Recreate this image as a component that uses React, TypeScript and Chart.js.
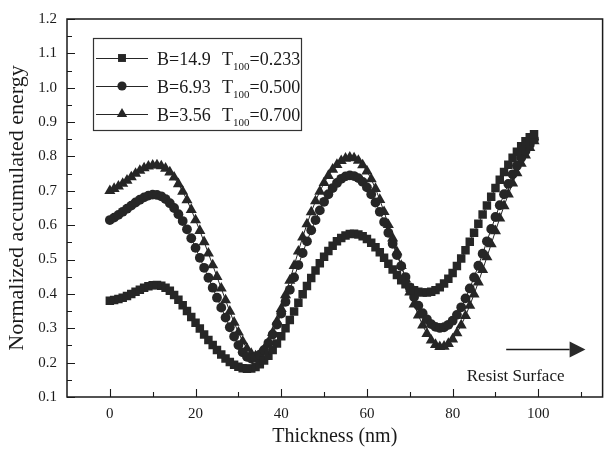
import React, { useEffect, useRef } from 'react';
import { Chart, registerables } from 'chart.js';

Chart.register(...registerables);

// ---------- data ----------
const thickness = [
  0, 1, 2, 3, 4, 5, 6, 7, 8, 9, 10, 11, 12, 13, 14, 15, 16, 17, 18, 19,
  20, 21, 22, 23, 24, 25, 26, 27, 28, 29, 30, 31, 32, 33, 34, 35, 36, 37, 38, 39,
  40, 41, 42, 43, 44, 45, 46, 47, 48, 49, 50, 51, 52, 53, 54, 55, 56, 57, 58, 59,
  60, 61, 62, 63, 64, 65, 66, 67, 68, 69, 70, 71, 72, 73, 74, 75, 76, 77, 78, 79,
  80, 81, 82, 83, 84, 85, 86, 87, 88, 89, 90, 91, 92, 93, 94, 95, 96, 97, 98, 99,
];

// B=14.9, T100=0.233 (squares)
const energyB149 = [
  0.380, 0.382, 0.385, 0.389, 0.394, 0.400, 0.406, 0.412, 0.418, 0.422,
  0.425, 0.426, 0.424, 0.418, 0.409, 0.397, 0.383, 0.367, 0.350, 0.333,
  0.316, 0.299, 0.282, 0.266, 0.251, 0.237, 0.224, 0.212, 0.202, 0.194,
  0.188, 0.184, 0.182, 0.183, 0.187, 0.195, 0.206, 0.220, 0.237, 0.256,
  0.277, 0.300, 0.324, 0.349, 0.374, 0.399, 0.423, 0.446, 0.468, 0.489,
  0.508, 0.525, 0.540, 0.553, 0.563, 0.570, 0.574, 0.575, 0.573, 0.568,
  0.560, 0.549, 0.536, 0.521, 0.505, 0.488, 0.471, 0.455, 0.440, 0.428,
  0.418, 0.411, 0.406, 0.404, 0.404, 0.406, 0.411, 0.419, 0.430, 0.444,
  0.461, 0.481, 0.503, 0.527, 0.552, 0.578, 0.604, 0.631, 0.657, 0.683,
  0.708, 0.732, 0.755, 0.776, 0.796, 0.814, 0.830, 0.844, 0.856, 0.865,
];

// B=6.93, T100=0.500 (circles)
const energyB693 = [
  0.615, 0.622, 0.630, 0.639, 0.648, 0.657, 0.666, 0.674, 0.681, 0.686,
  0.689, 0.688, 0.684, 0.676, 0.664, 0.650, 0.632, 0.612, 0.588, 0.562,
  0.534, 0.505, 0.476, 0.447, 0.418, 0.389, 0.360, 0.331, 0.303, 0.276,
  0.251, 0.230, 0.217, 0.212, 0.214, 0.223, 0.237, 0.257, 0.282, 0.311,
  0.343, 0.377, 0.412, 0.448, 0.484, 0.519, 0.553, 0.585, 0.615, 0.643,
  0.668, 0.690, 0.708, 0.723, 0.735, 0.742, 0.745, 0.743, 0.737, 0.726,
  0.710, 0.690, 0.666, 0.639, 0.609, 0.578, 0.546, 0.513, 0.481, 0.449,
  0.419, 0.391, 0.366, 0.344, 0.326, 0.312, 0.304, 0.301, 0.303, 0.310,
  0.322, 0.339, 0.361, 0.387, 0.416, 0.448, 0.482, 0.517, 0.553, 0.589,
  0.624, 0.658, 0.690, 0.720, 0.748, 0.773, 0.796, 0.816, 0.834, 0.850,
];

// B=3.56, T100=0.700 (triangles)
const energyB356 = [
  0.700, 0.706, 0.713, 0.721, 0.730, 0.740, 0.750, 0.759, 0.766, 0.771,
  0.774, 0.775, 0.772, 0.765, 0.754, 0.739, 0.720, 0.698, 0.673, 0.645,
  0.615, 0.584, 0.551, 0.518, 0.484, 0.450, 0.416, 0.382, 0.349, 0.317,
  0.288, 0.262, 0.241, 0.226, 0.219, 0.224, 0.238, 0.259, 0.287, 0.320,
  0.357, 0.397, 0.439, 0.482, 0.524, 0.565, 0.603, 0.638, 0.670, 0.698,
  0.723, 0.744, 0.762, 0.776, 0.787, 0.794, 0.797, 0.795, 0.788, 0.775,
  0.757, 0.734, 0.706, 0.674, 0.639, 0.601, 0.562, 0.522, 0.482, 0.443,
  0.405, 0.370, 0.338, 0.309, 0.284, 0.265, 0.252, 0.246, 0.247, 0.255,
  0.268, 0.286, 0.309, 0.336, 0.366, 0.399, 0.434, 0.470, 0.507, 0.545,
  0.583, 0.620, 0.656, 0.690, 0.722, 0.752, 0.779, 0.803, 0.825, 0.845,
];

const legendB = ['B=14.9', 'B=6.93', 'B=3.56'];
const legendT = ['=0.233', '=0.500', '=0.700'];
const xLabelValues = [0, 20, 40, 60, 80, 100];
const xTitle = 'Thickness (nm)';
const yTitle = 'Normalized accumulated energy';
const surfaceLabel = 'Resist Surface';

// ---------- style ----------
const INK = '#1a1a1a';
const MARK = '#262626';
const SERIF = '"Liberation Serif", "DejaVu Serif", serif';
const markerStyles = ['rect', 'circle', 'triangle'] as const;
const markerRadius = [6.0, 4.9, 6.4];
const legendRadius = [5.6, 4.6, 6.0];

function drawMarker(ctx: CanvasRenderingContext2D, style: string, x: number, y: number, r: number) {
  ctx.beginPath();
  if (style === 'rect') {
    const s = r * Math.SQRT1_2;
    ctx.rect(x - s, y - s, 2 * s, 2 * s);
  } else if (style === 'circle') {
    ctx.arc(x, y, r, 0, Math.PI * 2);
  } else {
    const h = r * 1.5;
    const w = r * Math.sqrt(3) / 2;
    ctx.moveTo(x, y - r);
    ctx.lineTo(x + w, y - r + h);
    ctx.lineTo(x - w, y - r + h);
    ctx.closePath();
  }
  ctx.fill();
}

const overlayPlugin = {
  id: 'overlay',
  afterDraw(chart: any) {
    const { ctx, chartArea: ca, scales } = chart;
    const xs = scales.x;
    const ys = scales.y;
    ctx.save();
    // frame
    ctx.strokeStyle = INK;
    ctx.lineWidth = 1.5;
    ctx.strokeRect(ca.left, ca.top, ca.right - ca.left, ca.bottom - ca.top);
    // inward ticks
    ctx.lineWidth = 1.1;
    ctx.beginPath();
    for (let v = 0; v <= 110; v += 10) {
      const px = Math.round(xs.getPixelForValue(v)) + 0.5;
      const len = v % 20 === 0 ? 8 : 5;
      ctx.moveTo(px, ca.bottom);
      ctx.lineTo(px, ca.bottom - len);
    }
    for (let k = 2; k <= 24; k++) {
      const v = k / 20;
      const py = Math.round(ys.getPixelForValue(v)) + 0.5;
      const len = k % 2 === 0 ? 8 : 5;
      ctx.moveTo(ca.left, py);
      ctx.lineTo(ca.left + len, py);
    }
    ctx.stroke();

    // legend box
    const bx = ca.left + 26;
    const by = ca.top + 19;
    const bw = 208;
    const bh = 92;
    ctx.lineWidth = 1.2;
    ctx.strokeStyle = '#333';
    ctx.strokeRect(bx + 0.5, by + 0.5, bw, bh);
    for (let i = 0; i < 3; i++) {
      const ry = by + 20 + i * 28;
      ctx.strokeStyle = MARK;
      ctx.lineWidth = 1;
      ctx.beginPath();
      ctx.moveTo(bx + 3, ry + 0.5);
      ctx.lineTo(bx + 55, ry + 0.5);
      ctx.stroke();
      ctx.fillStyle = MARK;
      drawMarker(ctx, markerStyles[i], bx + 29, ry, legendRadius[i]);
      ctx.fillStyle = INK;
      ctx.textBaseline = 'alphabetic';
      ctx.textAlign = 'left';
      ctx.font = `18px ${SERIF}`;
      ctx.fillText(legendB[i], bx + 64, ry + 7);
      const tx = bx + 129;
      ctx.fillText('T', tx, ry + 7);
      const tw = ctx.measureText('T').width;
      ctx.font = `11px ${SERIF}`;
      ctx.fillText('100', tx + tw, ry + 12);
      const sw = ctx.measureText('100').width;
      ctx.font = `18px ${SERIF}`;
      ctx.fillText(legendT[i], tx + tw + sw, ry + 7);
    }

    // resist surface arrow
    const ay = Math.round(ys.getPixelForValue(0.24)) + 0.5;
    const ax0 = xs.getPixelForValue(92.5);
    const ax1 = xs.getPixelForValue(107.3);
    const ax2 = xs.getPixelForValue(111);
    ctx.strokeStyle = INK;
    ctx.lineWidth = 1.3;
    ctx.beginPath();
    ctx.moveTo(ax0, ay);
    ctx.lineTo(ax1, ay);
    ctx.stroke();
    ctx.fillStyle = '#2a2a2a';
    ctx.beginPath();
    ctx.moveTo(ax1, ay - 8);
    ctx.lineTo(ax2, ay);
    ctx.lineTo(ax1, ay + 8);
    ctx.closePath();
    ctx.fill();
    ctx.fillStyle = INK;
    ctx.font = `17px ${SERIF}`;
    ctx.textAlign = 'center';
    ctx.fillText(surfaceLabel, xs.getPixelForValue(94.7), ys.getPixelForValue(0.146));
    ctx.restore();
  },
};

export default function App() {
  const ref = useRef<HTMLCanvasElement>(null);
  useEffect(() => {
    const series = [energyB149, energyB693, energyB356];
    const chart = new Chart(ref.current as HTMLCanvasElement, {
      type: 'scatter',
      data: {
        datasets: series.map((arr, i) => ({
          label: `${legendB[i]} T100${legendT[i]}`,
          data: thickness.map((t, j) => ({ x: t, y: arr[j] })),
          showLine: true,
          borderColor: MARK,
          borderWidth: 1,
          pointStyle: markerStyles[i],
          pointRadius: markerRadius[i],
          pointBackgroundColor: MARK,
          pointBorderColor: MARK,
          pointBorderWidth: 0,
        })),
      },
      options: {
        animation: false,
        responsive: false,
        devicePixelRatio: 1,
        layout: { padding: { top: 16, right: 2, left: 0, bottom: 0 } },
        plugins: { legend: { display: false }, tooltip: { enabled: false } },
        scales: {
          x: {
            type: 'linear',
            min: -10,
            max: 115,
            grid: { display: false, drawTicks: false },
            border: { display: false },
            ticks: {
              stepSize: 10,
              includeBounds: false,
              autoSkip: false,
              maxRotation: 0,
              padding: 8,
              color: INK,
              font: { family: SERIF, size: 15 },
              callback: (v: any) => (xLabelValues.includes(Number(v)) ? String(v) : ''),
            },
            title: {
              display: true,
              text: xTitle,
              color: INK,
              font: { family: SERIF, size: 20 },
              padding: { top: 0, bottom: 4 },
            },
            afterFit: (s: any) => {
              s.height = 56;
            },
          },
          y: {
            type: 'linear',
            min: 0.1,
            max: 1.2,
            grid: { display: false, drawTicks: false },
            border: { display: false },
            ticks: {
              stepSize: 0.1,
              autoSkip: false,
              padding: 10,
              color: INK,
              font: { family: SERIF, size: 15 },
              callback: (v: any) => Number(v).toFixed(1),
            },
            title: {
              display: true,
              text: yTitle,
              color: INK,
              font: { family: SERIF, size: 22 },
              padding: { top: 4, bottom: 0 },
            },
            afterFit: (s: any) => {
              s.width = 67;
            },
          },
        },
      },
      plugins: [overlayPlugin],
    } as any);
    return () => chart.destroy();
  }, []);
  return (
    <div style={{ position: 'absolute', left: 0, top: 0, width: 609, height: 453, background: '#fff' }}>
      <canvas ref={ref} width={609} height={453} style={{ display: 'block', width: 609, height: 453 }} />
    </div>
  );
}
